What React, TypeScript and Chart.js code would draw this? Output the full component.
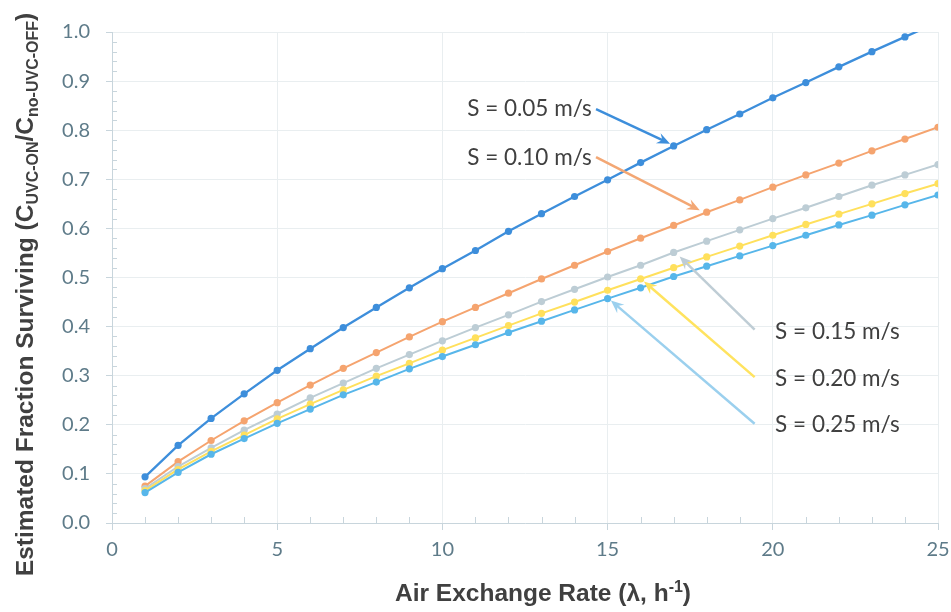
import React, { useEffect, useRef } from 'react';
import { Chart, registerables } from 'chart.js';

Chart.register(...registerables);

// ---- data ----
const airExchange = [1, 2, 3, 4, 5, 6, 7, 8, 9, 10, 11, 12, 13, 14, 15, 16, 17, 18, 19, 20, 21, 22, 23, 24, 25];
const s005 = [0.094, 0.158, 0.213, 0.263, 0.311, 0.355, 0.398, 0.439, 0.479, 0.518, 0.555, 0.594, 0.630, 0.665, 0.699, 0.734, 0.768, 0.801, 0.833, 0.866, 0.897, 0.929, 0.960, 0.990, 1.020];
const s010 = [0.075, 0.125, 0.168, 0.208, 0.245, 0.281, 0.315, 0.347, 0.379, 0.410, 0.439, 0.468, 0.497, 0.525, 0.553, 0.580, 0.606, 0.633, 0.658, 0.684, 0.709, 0.733, 0.758, 0.782, 0.806];
const s015 = [0.070, 0.115, 0.153, 0.189, 0.222, 0.255, 0.285, 0.315, 0.343, 0.371, 0.398, 0.424, 0.451, 0.476, 0.501, 0.525, 0.551, 0.574, 0.597, 0.620, 0.642, 0.665, 0.688, 0.709, 0.730];
const s020 = [0.066, 0.109, 0.146, 0.179, 0.212, 0.242, 0.271, 0.299, 0.325, 0.352, 0.377, 0.402, 0.427, 0.450, 0.474, 0.497, 0.520, 0.542, 0.564, 0.586, 0.608, 0.629, 0.650, 0.671, 0.691];
const s025 = [0.062, 0.103, 0.140, 0.172, 0.203, 0.232, 0.261, 0.287, 0.314, 0.339, 0.363, 0.388, 0.411, 0.434, 0.457, 0.479, 0.502, 0.523, 0.544, 0.565, 0.586, 0.607, 0.627, 0.648, 0.668];

const seriesLabels = ['S = 0.05 m/s', 'S = 0.10 m/s', 'S = 0.15 m/s', 'S = 0.20 m/s', 'S = 0.25 m/s'];
const seriesValues = [s005, s010, s015, s020, s025];
const seriesColors = ['#3D8EDB', '#F5A46F', '#BDCDD5', '#FFE05C', '#57B6EA'];
const arrowColors = ['#3D8EDB', '#F3A774', '#BFCDD5', '#FFE35F', '#9BD0EE'];

// annotation anchors in data units: label (x, baseline y), arrow tail, arrow tip
const labelX = [10.75, 10.75, 20.07, 20.07, 20.07];
const labelY = [0.828, 0.730, 0.375, 0.280, 0.1845];
const tailX = [14.65, 14.65, 19.45, 19.45, 19.45];
const tailY = [0.843, 0.745, 0.394, 0.297, 0.202];
const tipX = [16.89, 17.79, 17.18, 16.10, 15.10];
const tipY = [0.7725, 0.637, 0.543, 0.492, 0.453];

const xTitleMain = 'Air Exchange Rate (λ, h';
const xTitleSup = '-1';
const yTitleParts: [string, boolean][] = [
  ['Estimated Fraction Surviving (C', false],
  ['UVC-ON', true],
  ['/C', false],
  ['no-UVC-OFF', true],
  [')', false],
];

const AXIS_COLOR = '#C8D5DC';
const GRID_COLOR = '#E9EEF0';
const TICK_TEXT = '#5E7B89';
const TITLE_COLOR = '#404040';

const extrasPlugin = {
  id: 'extras',
  beforeDatasetsDraw(chart: any) {
    const { ctx, chartArea, scales } = chart;
    const x = scales.x;
    const y = scales.y;
    ctx.save();
    ctx.strokeStyle = AXIS_COLOR;
    ctx.lineWidth = 1;
    ctx.beginPath();
    for (let i = 1; i < 25; i++) {
      if (i % 5 === 0) continue;
      const px = Math.round(x.getPixelForValue(i)) + 0.5;
      ctx.moveTo(px, chartArea.bottom);
      ctx.lineTo(px, chartArea.bottom - 6);
    }
    for (let k = 1; k < 50; k++) {
      if (k % 5 === 0) continue;
      const py = Math.round(y.getPixelForValue(k * 0.02)) + 0.5;
      ctx.moveTo(chartArea.left, py);
      ctx.lineTo(chartArea.left + 5, py);
    }
    ctx.stroke();
    ctx.restore();
  },
  afterDatasetsDraw(chart: any) {
    const { ctx, scales } = chart;
    const x = scales.x;
    const y = scales.y;
    ctx.save();
    for (let i = 0; i < seriesLabels.length; i++) {
      const lx = x.getPixelForValue(labelX[i]);
      const ly = y.getPixelForValue(labelY[i]);
      ctx.fillStyle = TITLE_COLOR;
      ctx.font = '22.5px Lato';
      ctx.textAlign = 'left';
      ctx.textBaseline = 'alphabetic';
      ctx.fillText(seriesLabels[i], lx, ly);

      const ax = x.getPixelForValue(tailX[i]);
      const ay = y.getPixelForValue(tailY[i]);
      const hx = x.getPixelForValue(tipX[i]);
      const hy = y.getPixelForValue(tipY[i]);
      const dx = hx - ax;
      const dy = hy - ay;
      const len = Math.sqrt(dx * dx + dy * dy);
      const ux = dx / len;
      const uy = dy / len;
      const nx = -uy;
      const ny = ux;
      const L = 13;
      const W = 5.5;
      ctx.strokeStyle = arrowColors[i];
      ctx.fillStyle = arrowColors[i];
      ctx.lineWidth = 2.5;
      ctx.beginPath();
      ctx.moveTo(ax, ay);
      ctx.lineTo(hx - ux * L * 0.6, hy - uy * L * 0.6);
      ctx.stroke();
      ctx.beginPath();
      ctx.moveTo(hx, hy);
      ctx.lineTo(hx - ux * L + nx * W, hy - uy * L + ny * W);
      ctx.lineTo(hx - ux * L * 0.65, hy - uy * L * 0.65);
      ctx.lineTo(hx - ux * L - nx * W, hy - uy * L - ny * W);
      ctx.closePath();
      ctx.fill();
    }
    ctx.restore();
  },
  afterDraw(chart: any) {
    const { ctx, chartArea } = chart;
    ctx.save();
    ctx.fillStyle = TITLE_COLOR;
    ctx.textBaseline = 'alphabetic';
    ctx.textAlign = 'left';
    const mainFont = 'bold 24.5px "Liberation Sans", Arial, sans-serif';
    const supFont = 'bold 16px "Liberation Sans", Arial, sans-serif';
    // x title
    ctx.font = mainFont;
    const wMain = ctx.measureText(xTitleMain).width;
    const wParen = ctx.measureText(')').width;
    ctx.font = supFont;
    const wSup = ctx.measureText(xTitleSup).width;
    const total = wMain + wSup + wParen;
    const cx = (chartArea.left + chartArea.right) / 2 + 18;
    let px = cx - total / 2;
    const baseY = 601;
    ctx.font = mainFont;
    ctx.fillText(xTitleMain, px, baseY);
    px += wMain;
    ctx.font = supFont;
    ctx.fillText(xTitleSup, px, baseY - 9);
    px += wSup;
    ctx.font = mainFont;
    ctx.fillText(')', px, baseY);

    // y title (rotated)
    let totalY = 0;
    for (const [t, sub] of yTitleParts) {
      ctx.font = sub ? supFont : mainFont;
      totalY += ctx.measureText(t).width;
    }
    const cy = (chartArea.top + chartArea.bottom) / 2 + 17;
    ctx.translate(33, cy);
    ctx.rotate(-Math.PI / 2);
    let p = -totalY / 2;
    for (const [t, sub] of yTitleParts) {
      ctx.font = sub ? supFont : mainFont;
      ctx.fillText(t, p, sub ? 5 : 0);
      p += ctx.measureText(t).width;
    }
    ctx.restore();
  },
};

export default function App() {
  const ref = useRef<HTMLCanvasElement | null>(null);

  useEffect(() => {
    if (!ref.current) return;
    const datasets = seriesValues.map((vals, i) => ({
      label: seriesLabels[i],
      data: airExchange.map((xv, j) => ({ x: xv, y: vals[j] })),
      borderColor: seriesColors[i],
      backgroundColor: seriesColors[i],
      pointBackgroundColor: seriesColors[i],
      pointBorderWidth: 0,
      pointRadius: 3.6,
      borderWidth: i === 0 ? 2.3 : 2,
      tension: 0,
      order: 5 - i,
    }));
    const chart = new Chart(ref.current, {
      type: 'line',
      data: { datasets },
      options: {
        animation: false,
        responsive: false,
        maintainAspectRatio: false,
        layout: { padding: { top: 32, right: 13, left: 0, bottom: 0 } },
        plugins: { legend: { display: false }, tooltip: { enabled: false } },
        scales: {
          x: {
            type: 'linear',
            min: 0,
            max: 25,
            ticks: {
              stepSize: 5,
              color: TICK_TEXT,
              font: { family: 'Lato', size: 20 },
              padding: 8,
              maxRotation: 0,
            },
            grid: { color: GRID_COLOR, tickColor: AXIS_COLOR, tickLength: 7, lineWidth: 1 },
            border: { color: AXIS_COLOR, width: 1 },
            afterFit: (s: any) => {
              s.height = 89;
              s.paddingRight = 0;
              s.paddingLeft = 0;
            },
          },
          y: {
            type: 'linear',
            min: 0,
            max: 1,
            ticks: {
              stepSize: 0.1,
              color: TICK_TEXT,
              font: { family: 'Lato', size: 20 },
              padding: 16,
              callback: (v: any) => Number(v).toFixed(1),
            },
            grid: { color: GRID_COLOR, tickColor: AXIS_COLOR, tickLength: 6, lineWidth: 1 },
            border: { color: AXIS_COLOR, width: 1 },
            afterFit: (s: any) => {
              s.width = 112;
              s.paddingTop = 0;
              s.paddingBottom = 0;
            },
          },
        },
      },
      plugins: [extrasPlugin],
    });
    return () => chart.destroy();
  }, []);

  return (
    <div style={{ position: 'fixed', left: 0, top: 0, width: 951, height: 612, background: '#fff' }}>
      <canvas ref={ref} width={951} height={612} style={{ display: 'block' }} />
    </div>
  );
}
